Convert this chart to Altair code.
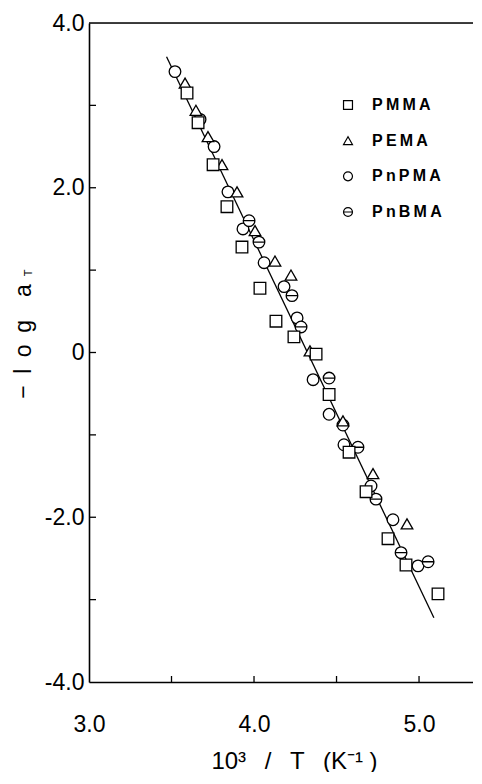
import altair as alt
import pandas as pd

series_names = ["PMMA", "PEMA", "PnPMA", "PnBMA"]

pmma_x = [3.594, 3.661, 3.752, 3.836, 3.927, 4.036, 4.133, 4.242, 4.376, 4.455, 4.576, 4.679, 4.812, 4.921, 5.115]
pmma_y = [3.15, 2.79, 2.28, 1.77, 1.28, 0.78, 0.38, 0.19, -0.02, -0.51, -1.21, -1.69, -2.26, -2.58, -2.93]

pema_x = [3.582, 3.648, 3.721, 3.806, 3.897, 4.006, 4.127, 4.224, 4.339, 4.539, 4.721, 4.927]
pema_y = [3.27, 2.94, 2.62, 2.28, 1.95, 1.48, 1.11, 0.94, 0.02, -0.83, -1.47, -2.08]

pnpma_x = [3.521, 3.673, 3.758, 3.842, 3.933, 4.061, 4.182, 4.261, 4.358, 4.455, 4.545, 4.709, 4.842, 4.994]
pnpma_y = [3.41, 2.83, 2.50, 1.95, 1.50, 1.09, 0.80, 0.42, -0.33, -0.75, -1.12, -1.62, -2.03, -2.59]

pnbma_x = [3.970, 4.030, 4.230, 4.285, 4.455, 4.539, 4.630, 4.739, 4.891, 5.055]
pnbma_y = [1.60, 1.34, 0.69, 0.31, -0.31, -0.88, -1.15, -1.78, -2.43, -2.54]

fit_x = [3.47, 5.09]
fit_y = [3.59, -3.22]

x_label_values = [3.0, 4.0, 5.0]
x_tick_values = [3.5, 4.0, 4.5, 5.0]
y_label_values = [-4.0, -2.0, 0.0, 2.0, 4.0]
y_tick_values = [-3.0, -2.0, -1.0, 0.0, 1.0, 2.0, 3.0]

X_DOMAIN = [3.0, 5.327]
Y_DOMAIN = [-4.0, 4.0]
W, H = 384, 659
FONT = "Liberation Sans"

# build tables (draw order: circles, barred circles, triangles, squares)
rows = []
for name, xs, ys in [("PnPMA", pnpma_x, pnpma_y), ("PnBMA", pnbma_x, pnbma_y),
                     ("PEMA", pema_x, pema_y), ("PMMA", pmma_x, pmma_y)]:
    for a, b in zip(xs, ys):
        rows.append({"series": name, "x": a, "y": b})
pts = pd.DataFrame(rows)
fit = pd.DataFrame({"x": fit_x, "y": fit_y})
xt = pd.DataFrame({"x": x_tick_values})
yt = pd.DataFrame({"y": y_tick_values})
one = pd.DataFrame({"k": [0]})
leg = pd.DataFrame({"series": series_names})

xscale = alt.Scale(domain=X_DOMAIN, nice=False, zero=False)
yscale = alt.Scale(domain=Y_DOMAIN, nice=False, zero=False)

barred_circle = "M-1,0A1,1,0,1,1,1,0A1,1,0,1,1,-1,0ZM-1,0L1,0"
shape_scale = alt.Scale(domain=series_names,
                        range=["square", "triangle-up", "circle", barred_circle])
legend_rows = alt.Scale(domain=series_names, range=[82, 189], padding=0)

x_axis = alt.Axis(
    values=x_label_values, format=".1f", ticks=False, tickSize=0, grid=False,
    labelFlush=False,
    domainColor="black", domainWidth=1.6, labelFont=FONT, labelFontSize=23,
    labelColor="black", labelPadding=31,
    title="10³ \u2002/ \u2002T \u2002(K⁻¹ )", titleFont=FONT, titleFontSize=24,
    titleFontWeight="normal", titleColor="black", titleX=205, titleY=86,
    titleAlign="center", titleBaseline="alphabetic",
)
y_axis = alt.Axis(
    values=y_label_values, ticks=False, tickSize=0, grid=False, labelFlush=False,
    labelExpr="datum.value == 0 ? '0' : (datum.value < 0 ? '-' : '') + format(abs(datum.value), '.1f')",
    domainColor="black", domainWidth=1.6, labelFont=FONT, labelFontSize=23,
    labelColor="black", labelPadding=5,
    title="\u2212\u2002l\u2002o\u2002g\u2002\u2002a", titleFont=FONT, titleFontSize=23,
    titleFontWeight="normal", titleColor="black", titleAngle=270, titleX=-59,
    titleY=318, titleAlign="center", titleBaseline="alphabetic",
)

line = alt.Chart(fit).mark_line(color="black", strokeWidth=1.3).encode(
    x=alt.X("x:Q", scale=xscale, axis=x_axis),
    y=alt.Y("y:Q", scale=yscale, axis=y_axis),
)

points = alt.Chart(pts).mark_point(
    fill="white", fillOpacity=1, stroke="black", strokeWidth=1.3, size=135, opacity=1
).encode(
    x=alt.X("x:Q", scale=xscale),
    y=alt.Y("y:Q", scale=yscale, axis=None),
    shape=alt.Shape("series:N", scale=shape_scale, legend=None),
)

xticks = alt.Chart(xt).mark_rule(color="black", strokeWidth=1.3).encode(
    x=alt.X("x:Q", scale=xscale),
    y=alt.value(H), y2=alt.value(H - 6),
)
yticks = alt.Chart(yt).mark_rule(color="black", strokeWidth=1.3).encode(
    y=alt.Y("y:Q", scale=yscale, axis=None),
    x=alt.value(0), x2=alt.value(7),
)
top_line = alt.Chart(one).mark_rule(color="black", strokeWidth=1.6).encode(
    x=alt.value(0), x2=alt.value(W), y=alt.value(0),
)
sub_t = alt.Chart(one).mark_text(
    text="T", font=FONT, fontSize=11, angle=270, color="black",
    align="center", baseline="alphabetic",
).encode(x=alt.value(-57), y=alt.value(250))

# legend (drawn as marks, rows placed by an ordinal scale)
leg_sym = alt.Chart(leg).mark_point(
    fill="white", fillOpacity=1, stroke="black", strokeWidth=1.2, size=80, opacity=1
).encode(
    x=alt.value(259),
    y=alt.Y("series:N", scale=legend_rows, axis=None),
    shape=alt.Shape("series:N", scale=shape_scale, legend=None),
)
leg_txt = alt.Chart(leg).transform_calculate(
    lab="join(split(datum.series, ''), '\u2009')"
).mark_text(
    font=FONT, fontSize=16, fontWeight="bold", color="black",
    align="left", baseline="middle",
).encode(
    x=alt.value(283),
    y=alt.Y("series:N", scale=legend_rows, axis=None),
    text="lab:N",
)

chart = alt.layer(line, points, xticks, yticks, top_line, sub_t, leg_sym, leg_txt).resolve_scale(
    y="independent"
).properties(
    width=W, height=H,
    autosize=alt.AutoSizeParams(type="none"),
    padding={"left": 81, "top": 15, "right": 0, "bottom": 90},
).configure_view(stroke=None).configure(background="white")

chart.save("out.html", embed_options={"renderer": "svg", "actions": False})
